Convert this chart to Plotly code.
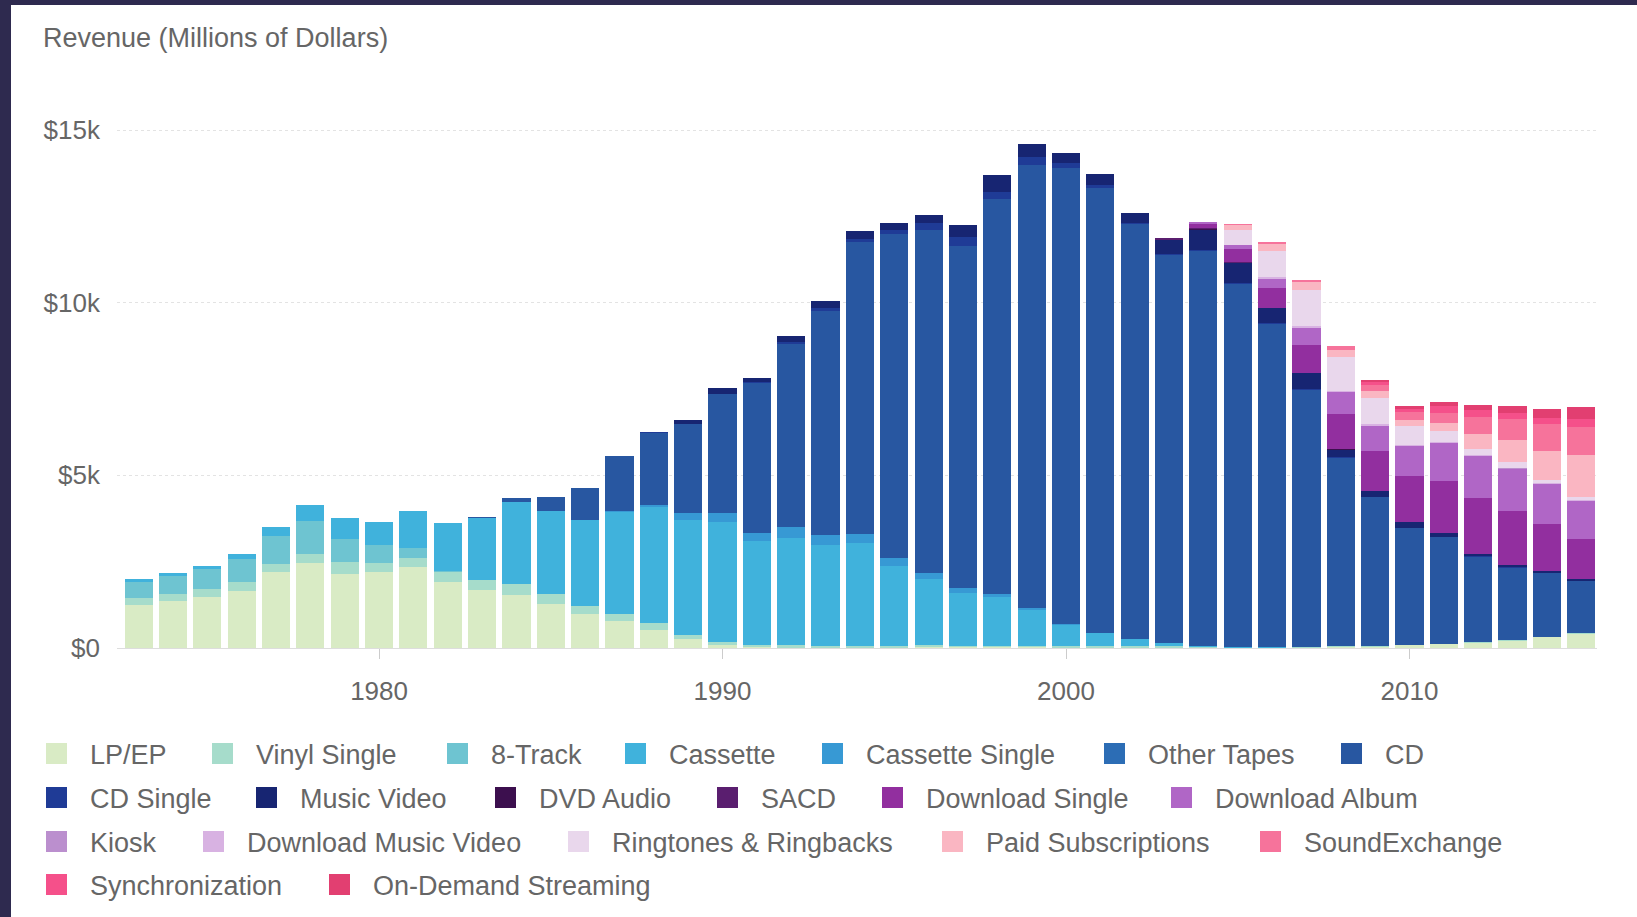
import plotly.graph_objects as go

# ---------------- data (millions of dollars, nominal) ----------------
years = list(range(1973, 2016))

formats = [
    "LP/EP", "Vinyl Single", "8-Track", "Cassette", "Cassette Single", "Other Tapes", "CD",
    "CD Single", "Music Video", "DVD Audio", "SACD", "Download Single", "Download Album",
    "Kiosk", "Download Music Video", "Ringtones & Ringbacks", "Paid Subscriptions", "SoundExchange",
    "Synchronization", "On-Demand Streaming",
]

lp_ep = [1246, 1356, 1485, 1663, 2195, 2473, 2136, 2200, 2342, 1925,
         1689, 1548, 1281, 983, 793, 532, 250, 87, 29, 14,
         11, 18, 25, 37, 34, 35, 32, 28, 27, 21,
         22, 19, 14, 16, 23, 56, 57, 89, 119, 163,
         212, 321, 416]
vinyl_single = [190, 194, 211, 245, 245, 260, 354, 250, 256, 283,
                269, 298, 281, 228, 203, 180, 116, 95, 64, 66,
                51, 47, 47, 48, 35, 26, 28, 26, 31, 24,
                22, 20, 13, 4, 4, 3, 3, 2, 5, 3,
                6, 6, 6]
eight_track = [489, 549, 583, 678, 811, 948, 669, 520, 309, 36] + [0] * 33
cassette = [76, 87, 98, 146, 250, 450, 604, 680, 1062, 1385,
            1811, 2384, 2412, 2500, 2960, 3385, 3346, 3472, 3019, 3116,
            2916, 2977, 2304, 1905, 1523, 1420, 1062, 626, 363, 209,
            108, 24, 13, 3] + [0] * 9
cassette_single = [0] * 14 + [14, 57, 194, 257, 230, 298, 299, 274, 236, 190,
                              134, 94, 48, 4] + [0] * 15
other_tapes = [0] * 43
cd = [0] * 10 + [17, 103, 390, 930, 1594, 2090, 2588, 3452, 4338, 5326,
                 6511, 8465, 9377, 9935, 9915, 11416, 12816, 13215, 12909, 12044,
                 11233, 11447, 10520, 9373, 7452, 5471, 4318, 3389, 3101, 2486,
                 2123, 1856, 1520]
cd_single = [0] * 15 + [9, 0, 6, 35, 45, 45, 56, 111, 184, 273,
                        213, 222, 142, 79, 20, 36, 15, 11, 7, 12,
                        3, 1, 1, 1, 1, 1, 1, 1]
music_video = [0] * 16 + [115, 172, 118, 157, 214, 231, 220, 236, 323, 508,
                          377, 281, 329, 288, 400, 607, 602, 451, 484, 219,
                          160, 172, 109, 82, 69, 59, 52]
dvd_audio = [0] * 28 + [0, 0, 8, 6, 3, 3, 3, 1] + [0] * 7
sacd = [0] * 30 + [26, 16, 7, 1] + [0] * 9
download_single = [0] * 31 + [139, 363, 580, 809, 1032, 1172, 1330, 1510, 1620, 1570, 1350, 1170]
download_album = [0] * 31 + [46, 136, 275, 497, 635, 741, 870, 1100, 1210, 1230, 1180, 1110]
kiosk = [0] * 32 + [1, 2, 3, 3, 2, 6, 3, 2, 2, 2, 2]
download_music_video = [0] * 32 + [2, 19, 29, 22, 29, 22, 24, 13, 13, 9, 6]
ringtones = [0] * 32 + [422, 774, 1056, 977, 760, 560, 300, 180, 150, 90, 80]
paid_subscriptions = [0] * 32 + [149, 206, 234, 221, 207, 160, 241, 430, 640, 820, 1230]
soundexchange = [0] * 32 + [20, 32, 36, 100, 155, 240, 292, 500, 610, 790, 820]
synchronization = [0] * 36 + [120, 90, 190, 190, 180, 190, 220]
on_demand = [0] * 36 + [50, 70, 120, 150, 200, 240, 340]

series = [lp_ep, vinyl_single, eight_track, cassette, cassette_single, other_tapes, cd,
          cd_single, music_video, dvd_audio, sacd, download_single, download_album,
          kiosk, download_music_video, ringtones, paid_subscriptions, soundexchange,
          synchronization, on_demand]

y_tick_values = [0, 5000, 10000, 15000]
x_tick_values = [1980, 1990, 2000, 2010]

# ---------------- styles ----------------
colors = ["#d9ebc5", "#a6dccb", "#6ec4d1", "#40b2dc", "#3799d4", "#2c6db5", "#2857a1",
          "#1f3b96", "#172572", "#3c0f4e", "#5a1e6f", "#922f9f", "#b066c6",
          "#bb8fce", "#d8b2e2", "#e9d7ec", "#fab6c2", "#f6739b",
          "#f5508a", "#e23f71"]

W, H = 1637, 917
ML, MR, MT, MB = 117, 40, 100, 269
FONT = "Liberation Sans, Arial, Helvetica, sans-serif"
TXT = "#666666"

# legend item text-start x (px) and row centre y (px)
legend_text_x = [90, 256, 491, 669, 866, 1148, 1385,
                 90, 300, 539, 761, 926, 1215,
                 90, 247, 612, 986, 1304,
                 90, 373]
legend_row = [0] * 7 + [1] * 6 + [2] * 5 + [3] * 2
row_y = [754, 798, 842, 885]
ITEMW = 57

fig = go.Figure()
for name, vals, col in zip(formats, series, colors):
    fig.add_trace(go.Bar(
        x=years, y=vals, name=name, showlegend=False,
        marker=dict(color=col, line=dict(width=0)),
        hovertemplate="%{x}<br>" + name + ": $%{y:,}M<extra></extra>",
    ))

legends = {}
for i, (name, col) in enumerate(zip(formats, colors)):
    lid = "legend" if i == 0 else f"legend{i + 1}"
    fig.add_trace(go.Scatter(
        x=[None], y=[None], mode="markers", name=name, legend=lid, showlegend=True,
        marker=dict(symbol="square", size=16, color=col, line=dict(color=col, width=5)),
        hoverinfo="skip",
    ))
    legends[lid] = dict(
        x=(legend_text_x[i] - ITEMW - 10) / W, xref="container", xanchor="left",
        y=1 - row_y[legend_row[i]] / H, yref="container", yanchor="middle",
        orientation="h", itemwidth=ITEMW, bgcolor="rgba(0,0,0,0)", borderwidth=0,
        font=dict(family=FONT, size=27, color=TXT),
    )

fig.update_layout(
    width=W, height=H,
    margin=dict(l=ML, r=MR, t=MT, b=MB, autoexpand=False),
    paper_bgcolor="white", plot_bgcolor="white",
    barmode="stack", bargap=0.18,
    font=dict(family=FONT, size=26, color=TXT),
    title=dict(text="Revenue (Millions of Dollars)", x=43 / W, xanchor="left", xref="container",
               y=1 - 38 / H, yanchor="middle", yref="container",
               font=dict(family=FONT, size=27, color=TXT)),
    xaxis=dict(range=[1972.37, 2015.46], tickvals=x_tick_values, ticks="outside", ticklen=10,
               tickcolor="#cccccc", showline=True, linecolor="#dddddd", linewidth=1,
               showgrid=False, zeroline=False, ticklabelstandoff=10,
               tickfont=dict(family=FONT, size=26, color=TXT)),
    yaxis=dict(range=[0, 15870], tickvals=y_tick_values, tickformat="$~s",
               showgrid=True, gridcolor="#e3e3e3", griddash="dot", gridwidth=1,
               zeroline=False, showline=False, ticks="", ticklabelstandoff=16,
               tickfont=dict(family=FONT, size=26, color=TXT)),
    hovermode="closest",
    **legends,
)

# dark frame of the original screenshot (left and top strips)
PW = W - ML - MR
PH = H - MT - MB
def px_x(p):
    return (p - ML) / PW
def px_y(p):
    return (H - MB - p) / PH
dark = "#2e2a4f"
fig.add_shape(type="rect", xref="paper", yref="paper", x0=px_x(0), x1=px_x(11),
              y0=px_y(H), y1=px_y(0), fillcolor=dark, line=dict(width=0), layer="above")
fig.add_shape(type="rect", xref="paper", yref="paper", x0=px_x(0), x1=px_x(W),
              y0=px_y(5), y1=px_y(0), fillcolor=dark, line=dict(width=0), layer="above")

fig.write_html("out.html")
